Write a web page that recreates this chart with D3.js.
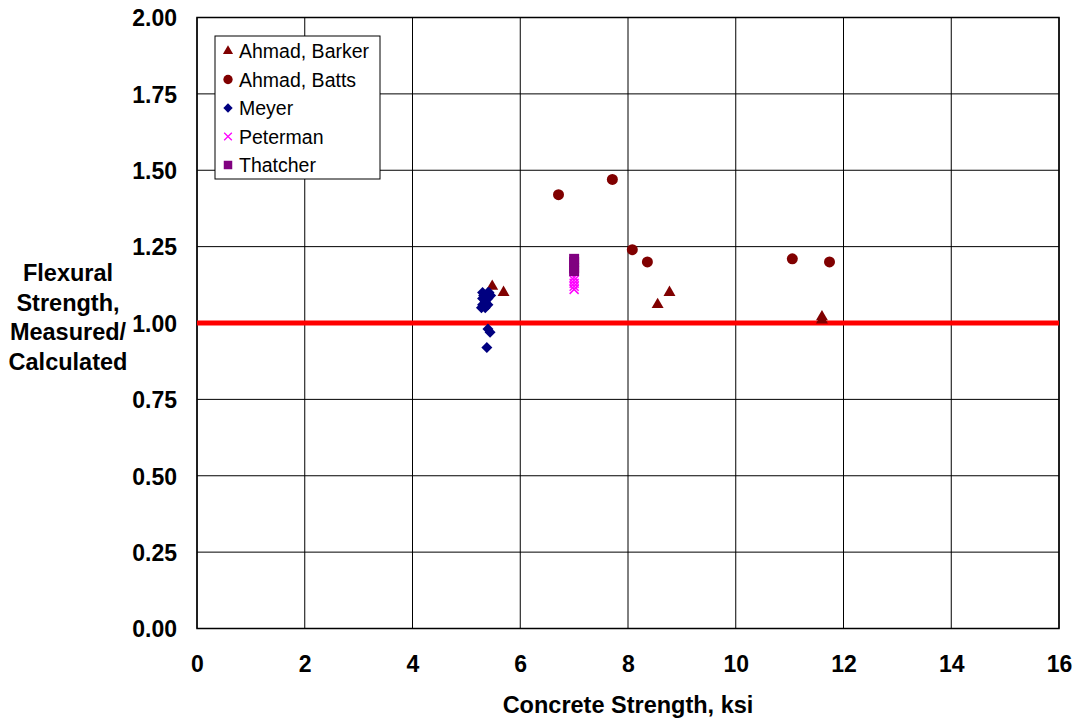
<!DOCTYPE html>
<html>
<head>
<meta charset="utf-8">
<script src="https://cdn.jsdelivr.net/npm/d3@7"></script>
<style>
  html, body { margin: 0; padding: 0; background: #fff; }
  svg { display: block; font-family: Arial, "Liberation Sans", sans-serif; }
</style>
</head>
<body>
<svg id="chart" width="1077" height="721"></svg>
<script>
// Concrete strength (ksi) and measured/calculated flexural strength ratio
const barkerX = [5.48, 5.69, 8.55, 8.77, 11.60, 11.60];
const barkerY = [1.12, 1.10, 1.06, 1.10, 1.02, 1.01];

const battsX = [6.71, 7.71, 8.08, 8.36, 11.05, 11.74];
const battsY = [1.42, 1.47, 1.24, 1.20, 1.21, 1.20];

const meyerX = [5.30, 5.35, 5.40, 5.45, 5.30, 5.35, 5.40, 5.32, 5.38, 5.42, 5.30, 5.35, 5.40, 5.28, 5.36, 5.40, 5.44, 5.38];
const meyerY = [1.10, 1.09, 1.10, 1.09, 1.08, 1.07, 1.08, 1.09, 1.085, 1.10, 1.06, 1.05, 1.06, 1.05, 1.065, 0.98, 0.97, 0.92];

const petermanX = [7.0, 7.0, 7.0, 7.0, 7.0];
const petermanY = [1.11, 1.12, 1.13, 1.14, 1.15];

const thatcherX = [7.0, 7.0, 7.0, 7.0];
const thatcherY = [1.21, 1.20, 1.18, 1.17];

const xTicks = [0, 2, 4, 6, 8, 10, 12, 14, 16];
const yTicks = [0, 0.25, 0.5, 0.75, 1.0, 1.25, 1.5, 1.75, 2.0];
const refLine = 1.0;

const seriesNames = ["Ahmad, Barker", "Ahmad, Batts", "Meyer", "Peterman", "Thatcher"];
const seriesColors = ["#800000", "#800000", "#000080", "#ff00ff", "#800080"];
const seriesShapes = ["triangle", "circle", "diamond", "cross", "square"];

const zip = (xs, ys) => xs.map((v, i) => ({ x: v, y: ys[i] }));
const series = [
  zip(barkerX, barkerY),
  zip(battsX, battsY),
  zip(meyerX, meyerY),
  zip(petermanX, petermanY),
  zip(thatcherX, thatcherY)
];

const svg = d3.select("#chart");
const plotLeft = 197, plotRight = 1059, plotTop = 17.5, plotBottom = 628.5;
const boldSize = 23;

const x = d3.scaleLinear().domain([0, 16]).range([plotLeft, plotRight]);
const y = d3.scaleLinear().domain([0, 2]).range([plotBottom, plotTop]);

// gridlines
const grid = svg.append("g");
grid.selectAll("line.v").data(xTicks).join("line").attr("class", "v")
  .attr("x1", d => x(d)).attr("x2", d => x(d))
  .attr("y1", plotTop).attr("y2", plotBottom)
  .attr("stroke", "#000").attr("stroke-width", 1);
grid.selectAll("line.h").data(yTicks).join("line").attr("class", "h")
  .attr("x1", plotLeft).attr("x2", plotRight)
  .attr("y1", d => y(d)).attr("y2", d => y(d))
  .attr("stroke", "#000").attr("stroke-width", 1);

// plot frame
svg.append("rect")
  .attr("x", plotLeft).attr("y", plotTop)
  .attr("width", plotRight - plotLeft).attr("height", plotBottom - plotTop)
  .attr("fill", "none").attr("stroke", "#000").attr("stroke-width", 1.5);

// axes (labels only)
const xAxis = d3.axisBottom(x).tickValues(xTicks).tickSize(0).tickPadding(0).tickFormat(d3.format("d"));
const gx = svg.append("g").attr("transform", `translate(0,${plotBottom})`).call(xAxis);
gx.select(".domain").remove();
gx.selectAll("text")
  .attr("y", 43).attr("dy", 0)
  .attr("font-size", boldSize).attr("font-weight", "bold").attr("fill", "#000")
  .attr("font-family", "Arial, 'Liberation Sans', sans-serif");

const yAxis = d3.axisLeft(y).tickValues(yTicks).tickSize(0).tickPadding(0).tickFormat(d3.format(".2f"));
const gy = svg.append("g").attr("transform", `translate(${plotLeft},0)`).call(yAxis);
gy.select(".domain").remove();
gy.selectAll("text")
  .attr("x", -20).attr("dy", "0.36em")
  .attr("font-size", boldSize).attr("font-weight", "bold").attr("fill", "#000")
  .attr("font-family", "Arial, 'Liberation Sans', sans-serif");

// reference line at ratio 1.00
svg.append("line")
  .attr("x1", plotLeft).attr("x2", plotRight)
  .attr("y1", y(refLine)).attr("y2", y(refLine))
  .attr("stroke", "#ff0000").attr("stroke-width", 5);

// marker shapes
function markerPath(shape) {
  switch (shape) {
    case "triangle": return d3.symbol(d3.symbolTriangle, 62)();
    case "circle": return d3.symbol(d3.symbolCircle, 95)();
    case "diamond": return "M0,-5.5L5.5,0L0,5.5L-5.5,0Z";
    case "square": return "M-5,-5H5V5H-5Z";
    case "cross": return "M-4.5,-4.5L4.5,4.5M-4.5,4.5L4.5,-4.5";
  }
}
function styleMarker(sel, i) {
  const shape = seriesShapes[i];
  sel.attr("d", markerPath(shape));
  if (shape === "cross") {
    sel.attr("fill", "none").attr("stroke", seriesColors[i]).attr("stroke-width", 1.5);
  } else {
    sel.attr("fill", seriesColors[i]);
  }
}

// data points
series.forEach((pts, i) => {
  svg.append("g").selectAll("path").data(pts).join("path")
    .attr("transform", d => `translate(${x(d.x)},${y(d.y)})`)
    .call(sel => styleMarker(sel, i));
});

// legend
const legend = svg.append("g").attr("transform", "translate(215,36)");
legend.append("rect")
  .attr("width", 165).attr("height", 143)
  .attr("fill", "#fff").attr("stroke", "#000").attr("stroke-width", 1);
seriesNames.forEach((name, i) => {
  const g = legend.append("g").attr("transform", `translate(0,${15 + i * 28.5})`);
  g.append("path")
    .call(sel => styleMarker(sel, i))
    .attr("transform", "translate(13,0) scale(0.85)");
  g.append("text").attr("x", 24).attr("dy", "0.36em")
    .attr("font-size", 19.5).attr("fill", "#000").text(name);
});

// axis titles
svg.append("text")
  .attr("x", 628).attr("y", 713)
  .attr("text-anchor", "middle")
  .attr("font-size", boldSize + 0.5).attr("font-weight", "bold")
  .text("Concrete Strength, ksi");

const yTitle = ["Flexural", "Strength,", "Measured/", "Calculated"];
svg.append("text")
  .attr("text-anchor", "middle")
  .attr("font-size", boldSize + 0.5).attr("font-weight", "bold")
  .selectAll("tspan").data(yTitle).join("tspan")
  .attr("x", 68).attr("y", (d, i) => 281 + i * 29.5)
  .text(d => d);
</script>
</body>
</html>
